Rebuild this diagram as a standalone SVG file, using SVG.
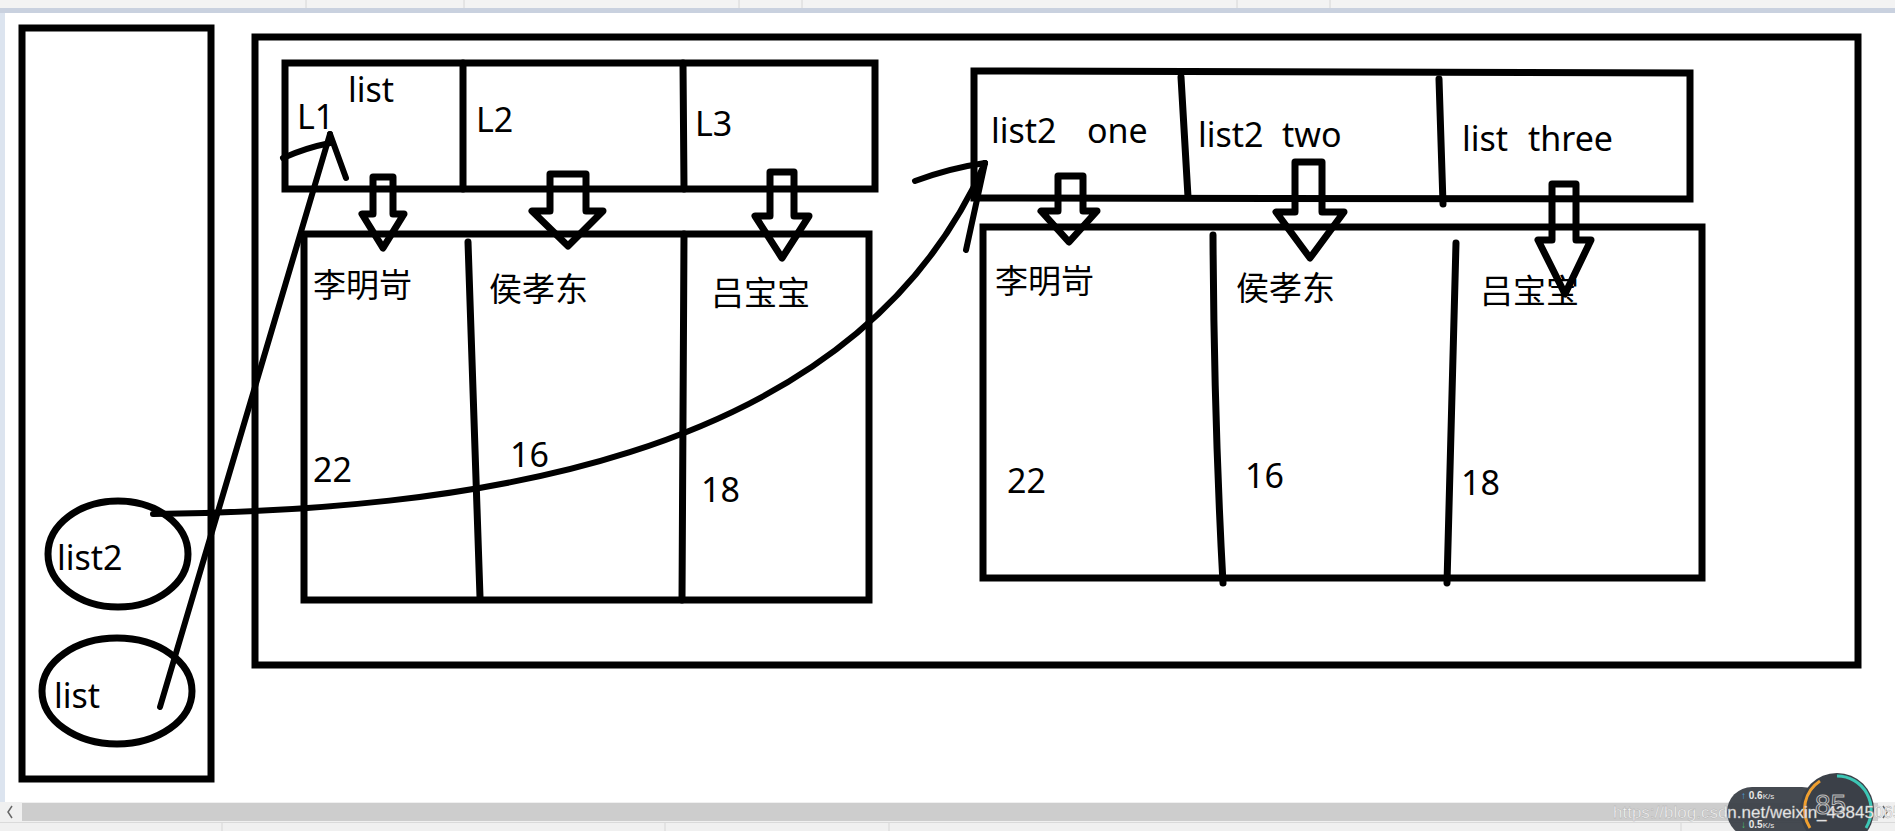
<svg xmlns="http://www.w3.org/2000/svg" width="1895" height="831" viewBox="0 0 1895 831">
<style>
.box{fill:none;stroke:#000;stroke-width:7}
.ln{fill:none;stroke:#000;stroke-width:7;stroke-linecap:round}
.conn{fill:none;stroke:#000;stroke-width:6;stroke-linecap:round;stroke-linejoin:round}
.blk{fill:none;stroke:#000;stroke-width:7;stroke-linejoin:round}
.t{font-family:'Noto Sans','Noto Sans CJK SC',sans-serif;font-size:34px;fill:#000}
.c{font-family:'Noto Sans CJK SC','Noto Sans',sans-serif;font-size:33px;fill:#000}
.sep{stroke:#d6d6d6;stroke-width:1}
</style>
<rect x="0" y="0" width="1895" height="831" fill="#fff"/>
<g id="ui-chrome">
<rect x="0" y="0" width="1895" height="8" fill="#f3f3f3"/>
<line class="sep" x1="306" y1="0" x2="306" y2="8"/><line class="sep" x1="464" y1="0" x2="464" y2="8"/><line class="sep" x1="739" y1="0" x2="739" y2="8"/><line class="sep" x1="802" y1="0" x2="802" y2="8"/><line class="sep" x1="1237" y1="0" x2="1237" y2="8"/><line class="sep" x1="1330" y1="0" x2="1330" y2="8"/>
<rect x="0" y="8" width="1895" height="5" fill="#c9d1df"/>
<rect x="0" y="13" width="5" height="789" fill="#dce4ef"/>
<rect x="0" y="802" width="1895" height="20" fill="#f0f0f0"/>
<rect x="22" y="803" width="1856" height="18" fill="#cdcdcd"/>
<path d="M12,806 L8,812 L12,818" fill="none" stroke="#666" stroke-width="1.5"/>
<path d="M1883,806 L1887,812 L1883,818" fill="none" stroke="#666" stroke-width="1.5"/>
<rect x="0" y="822" width="1895" height="9" fill="#f0f0f0"/>
<line x1="0" y1="822.5" x2="1895" y2="822.5" stroke="#dadada"/>
<line class="sep" x1="222" y1="823" x2="222" y2="831"/><line class="sep" x1="665" y1="823" x2="665" y2="831"/><line class="sep" x1="889" y1="823" x2="889" y2="831"/><line class="sep" x1="1681" y1="823" x2="1681" y2="831"/>
<rect x="1727" y="787" width="100" height="50" rx="25" fill="#3b4048" opacity="0.95"/>
<circle cx="1837" cy="810" r="37" fill="#3b4048"/>
<path d="M1837,776 A34,34 0 0 1 1866,828" fill="none" stroke="#3cc6b5" stroke-width="3"/>
<path d="M1810,828 A34,34 0 0 1 1820,781" fill="none" stroke="#f0a030" stroke-width="3"/>
<text x="1741" y="799" font-family="'Liberation Sans',sans-serif" font-size="10" font-weight="bold" fill="#e8e8e8"><tspan fill="#4aa8e8">↑</tspan> 0.6<tspan font-weight="normal" font-size="8">K/s</tspan></text>
<text x="1741" y="828" font-family="'Liberation Sans',sans-serif" font-size="10" font-weight="bold" fill="#e8e8e8"><tspan fill="#4cc070">↓</tspan> 0.5<tspan font-weight="normal" font-size="8">K/s</tspan></text>
<text x="1815" y="814" font-family="'Liberation Sans',sans-serif" font-size="28" fill="none" stroke="#bbb" stroke-width="1">85</text>
<text x="1613" y="818" font-family="'Liberation Sans',sans-serif" font-size="17" fill="#f7f7f7" stroke="#aaa" stroke-width="0.4">https://blog.csdn.net/weixin_43845065</text>
</g>
<g id="stack">
<rect class="box" x="22" y="28" width="189" height="751"/>
</g>
<g id="var-list2">
<ellipse class="box" cx="118" cy="554" rx="70" ry="53"/>
<text class="t" x="57" y="570">list2</text>
</g>
<g id="var-list">
<ellipse class="box" cx="117" cy="691" rx="75" ry="53"/>
<text class="t" x="54" y="708">list</text>
</g>
<g id="heap">
<rect class="box" x="255" y="37" width="1603" height="628"/>
</g>
<g id="array1-header">
<rect class="box" x="285" y="63" width="590" height="126"/>
<line class="ln" x1="463" y1="63" x2="463" y2="189"/>
<line class="ln" x1="683" y1="63" x2="684" y2="189"/>
<text class="t" x="348" y="102">list</text>
<text class="t" x="297" y="129">L1</text>
<text class="t" x="476" y="132">L2</text>
<text class="t" x="695" y="136">L3</text>
</g>
<g id="array1-body">
<rect class="box" x="304" y="234" width="565" height="366"/>
<line class="ln" x1="468" y1="242" x2="480" y2="597"/>
<line class="ln" x1="684" y1="234" x2="682" y2="600"/>
<text class="c" x="313" y="297">李明岢</text>
<text class="c" x="489" y="301">侯孝东</text>
<text class="c" x="711" y="305">吕宝宝</text>
<text class="t" x="313" y="482">22</text>
<text class="t" x="510" y="467">16</text>
<text class="t" x="701" y="502">18</text>
</g>
<g id="array2-header">
<polygon class="box" points="974,71 1690,73 1690,199 974,198"/>
<line class="ln" x1="1181" y1="77" x2="1188" y2="197"/>
<line class="ln" x1="1439" y1="79" x2="1443" y2="204"/>
<text class="t" x="991" y="143">list2<tspan x="1087">one</tspan></text>
<text class="t" x="1198" y="147">list2<tspan x="1282">two</tspan></text>
<text class="t" x="1462" y="151">list<tspan x="1528">three</tspan></text>
</g>
<g id="array2-body">
<rect class="box" x="983" y="227" width="719" height="351"/>
<path class="ln" d="M1213,235 Q1214,420 1223,583"/>
<line class="ln" x1="1456" y1="243" x2="1447" y2="583"/>
<text class="c" x="995" y="293">李明岢</text>
<text class="c" x="1236" y="300">侯孝东</text>
<text class="c" x="1480" y="303">吕宝宝</text>
<text class="t" x="1007" y="493">22</text>
<text class="t" x="1245" y="488">16</text>
<text class="t" x="1461" y="495">18</text>
</g>
<g id="connectors">
<polygon class="blk" points="373,177 393,177 393,214 404,214 383,248 362,214 373,214"/>
<polygon class="blk" points="550,174 586,174 586,211 603,211 568,246 532,211 550,211"/>
<polygon class="blk" points="770,172 794,172 794,216 809,216 782,258 755,216 770,216"/>
<polygon class="blk" points="1058,176 1083,176 1083,211 1097,211 1069,242 1041,211 1058,211"/>
<polygon class="blk" points="1295,162 1322,162 1322,212 1344,212 1310,258 1276,212 1295,212"/>
<polygon class="blk" points="1552,184 1576,184 1576,240 1591,240 1565,294 1538,240 1552,240"/>
<path class="conn" d="M160,707 L330,134"/>
<path class="conn" d="M283,158 Q305,148 330,143"/>
<path class="conn" d="M330,134 L346,178"/>
<path class="conn" d="M153,514 C450,510 850,470 985,163"/>
<path class="conn" d="M915,181 Q950,168 985,163"/>
<path class="conn" d="M985,163 L966,250"/>
</g>
</svg>
